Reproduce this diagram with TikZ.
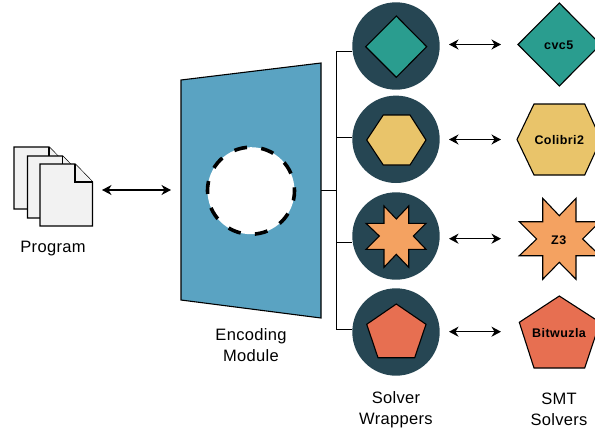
\documentclass[tikz,border=0pt]{standalone}
\usepackage{fontspec}
\setmainfont{Liberation Sans}
\usetikzlibrary{arrows.meta}
\definecolor{cteal}{HTML}{2A9D8F}
\definecolor{cyellow}{HTML}{E9C46A}
\definecolor{corange}{HTML}{F4A261}
\definecolor{cred}{HTML}{E76F51}
\definecolor{cdark}{HTML}{264653}
\definecolor{cblue}{HTML}{5AA3C2}
\definecolor{cpage}{HTML}{F2F2F2}
\newcommand{\capfont}{\fontsize{16.5}{21}\selectfont\addfontfeature{LetterSpace=2}}
\newcommand{\solfont}{\fontsize{12.5}{14}\selectfont\bfseries\addfontfeature{LetterSpace=3.5}}
\tikzset{
  caption/.style={align=center,inner sep=0pt,text=black,font=\capfont},
  sollabel/.style={inner sep=0pt,text=black,font=\solfont},
  wrapper/.style={circle,fill=cdark,minimum size=87.4pt,inner sep=0pt,line width=0pt},
  page/.style={draw=black,fill=cpage,line width=1.3pt,line join=miter},
  shapeline/.style={draw=black,line width=1.1pt,line join=miter},
  link/.style={draw=black,line width=1pt},
  dbl/.style={draw=black,line width=1.3pt,{Stealth[length=9.5pt,width=10pt,inset=3pt]}-{Stealth[length=9.5pt,width=10pt,inset=3pt]}},
}
\begin{document}
\begin{tikzpicture}[x=1pt,y=-1pt]
\clip (0,0) rectangle (595,432);
% documents
\foreach \dx/\dy in {14/147,27.5/156,40/164}{
  \draw[page] (\dx,\dy) -- ++(35,0) -- ++(17.5,18) -- ++(0,44) -- ++(-52.5,0) -- cycle;
  \draw[page] (\dx+35,\dy) -- ++(0,18) -- ++(17.5,0);
}
\node[caption] (program) at (53,248.5) {Program};
% encoder
\draw[shapeline,fill=cblue] (181,80) -- (321,63) -- (321,318) -- (181,300) -- cycle;
\node[circle,fill=white,draw=black,line width=3.6pt,minimum size=87pt,inner sep=0pt,dash pattern=on 13pt off 14.3pt,dash phase=9.6pt] (core) at (251,190.7) {};
\node[caption] (encoding) at (251,345.5) {Encoding\\Module};
\coordinate (progport) at (102,190);
\coordinate (encport) at (171,190);
\draw[dbl] (progport) -- (encport);
% wrappers
\node[wrapper] (w1) at (396,46) {};
\node[wrapper] (w2) at (396,139.3) {};
\node[wrapper] (w3) at (396,236) {};
\node[wrapper] (w4) at (396,332) {};
\coordinate (encout) at (321,190);
\coordinate (trunk) at (336,190);
\coordinate (t1) at (336,51);
\coordinate (t2) at (336,137);
\coordinate (t3) at (336,242);
\coordinate (t4) at (336,329);
\draw[link] (encout) -- (trunk);
\draw[link,line join=miter] (w1.west |- t1) -- (t1) -- (t4) -- (w4.west |- t4);
\draw[link] (t2) -- (w2.west |- t2);
\draw[link] (t3) -- (w3.west |- t3);
% wrapper glyphs
\draw[shapeline,fill=cteal] (396.3,16) -- (426.7,46.7) -- (396.3,77.3) -- (365.7,46.7) -- cycle;
\draw[shapeline,fill=cyellow] (383.3,115) -- (410,115) -- (426,140) -- (410,165) -- (383.3,165) -- (366.7,140) -- cycle;
\draw[shapeline,fill=corange] (384,206) -- (396.3,219) -- (408.7,206) -- (408.7,223.3) -- (426,223.3) -- (413.3,236) -- (426,249.3) -- (408.7,249.3) -- (408.7,267.3) -- (396.3,254.3) -- (384,267.3) -- (384,249.3) -- (366,249.3) -- (379.3,236) -- (366,223.3) -- (384,223.3) -- cycle;
\draw[shapeline,fill=cred] (396.3,304) -- (426,324.3) -- (414.7,357.7) -- (378,357.7) -- (366.7,324.3) -- cycle;
% solvers
\draw[shapeline,fill=cteal] (559.3,3) -- (600.5,44.5) -- (559.3,86) -- (518,44.5) -- cycle;
\draw[shapeline,fill=cyellow] (534,104) -- (584.7,104) -- (601,139.5) -- (584.7,175) -- (534,175) -- (517,139.5) -- cycle;
\draw[shapeline,fill=corange] (542.7,198.3) -- (559.3,215.7) -- (576,198.3) -- (576,221.7) -- (600,221.7) -- (582.7,239) -- (600,255.7) -- (576,255.7) -- (576,279.3) -- (559.3,262.3) -- (542.7,279.3) -- (542.7,255.7) -- (519.3,255.7) -- (536.7,239) -- (519.3,221.7) -- (542.7,221.7) -- cycle;
\draw[shapeline,fill=cred] (559.3,296) -- (600,322.3) -- (584.7,368) -- (534,368) -- (519.3,322.3) -- cycle;
\node[sollabel] (s1) at (558.7,45.5) {cvc5};
\node[sollabel] (s2) at (559.3,140) {Colibri2};
\node[sollabel] (s3) at (558.7,240) {Z3};
\node[sollabel] (s4) at (559,332.8) {Bitwuzla};
% arrows
\coordinate (a1l) at (449,44.5); \coordinate (a1r) at (501,44.5);
\coordinate (a2l) at (449,139.5); \coordinate (a2r) at (501,139.5);
\coordinate (a3l) at (449,238.7); \coordinate (a3r) at (501,238.7);
\coordinate (a4l) at (449,331.7); \coordinate (a4r) at (501,331.7);
\draw[dbl] (a1l) -- (a1r);
\draw[dbl] (a2l) -- (a2r);
\draw[dbl] (a3l) -- (a3r);
\draw[dbl] (a4l) -- (a4r);
% captions
\node[caption] (wrappers) at (396,409.5) {Solver\\Wrappers};
\node[caption] (solvers) at (559,409.5) {SMT\\Solvers};
\end{tikzpicture}
\end{document}
